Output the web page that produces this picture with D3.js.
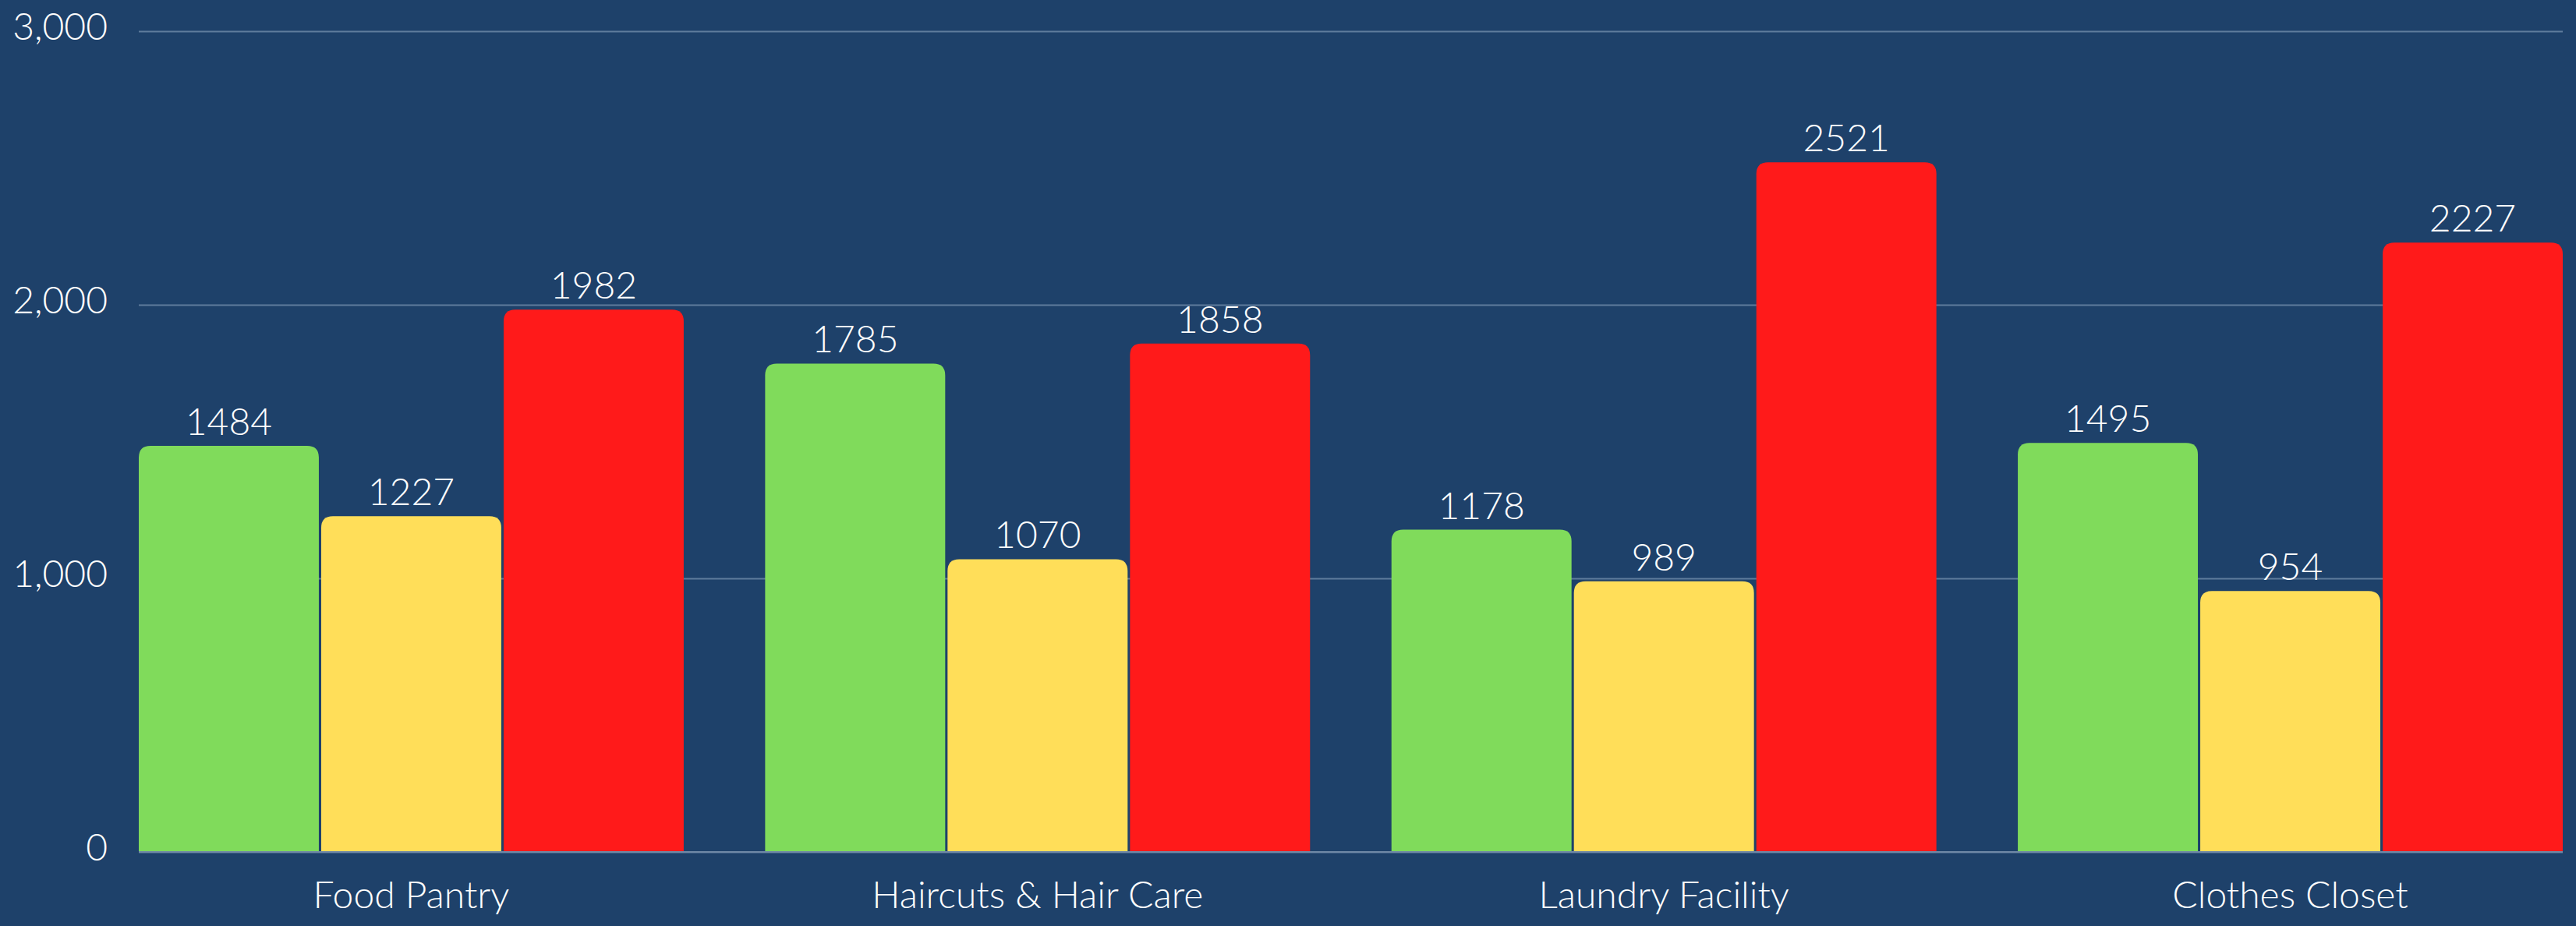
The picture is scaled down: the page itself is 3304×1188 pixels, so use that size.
<!DOCTYPE html>
<html>
<head>
<meta charset="utf-8">
<script src="https://cdn.jsdelivr.net/npm/d3@7"></script>
<style>
    html, body { margin:0; padding:0; background:#1E416A; }
    svg text { font-family: Lato, "Open Sans", sans-serif; font-weight:300; fill:#ffffff; }
</style>
</head>
<body>
<svg id="chart"></svg>
<script>
//DATA
const categories = ["Food Pantry", "Haircuts & Hair Care", "Laundry Facility", "Clothes Closet"];
const seriesKeys = ["green", "yellow", "red"];
const greenValues = [1484, 1785, 1178, 1495];
const yellowValues = [1227, 1070, 989, 954];
const redValues = [1982, 1858, 2521, 2227];
const yTicks = [0, 1000, 2000, 3000];

const seriesValues = { green:greenValues, yellow:yellowValues, red:redValues };
const colours = { green:"#80DB5B", yellow:"#FFDE59", red:"#FF1A1A" };

//dimensions
const WIDTH = 3304;
const HEIGHT = 1188;
const margin = { left:178, right:17, top:40, bottom:95 };
const contentsWidth = WIDTH - margin.left - margin.right;
const contentsHeight = HEIGHT - margin.top - margin.bottom;
const FONT_SIZE = 48;
const CORNER = 15;

const svg = d3.select("#chart")
    .attr("width", WIDTH)
    .attr("height", HEIGHT);

svg.append("rect")
    .attr("width", WIDTH)
    .attr("height", HEIGHT)
    .attr("fill", "#1E416A");

const contentsG = svg.append("g")
    .attr("transform", `translate(${margin.left},${margin.top})`);

//scales
const x0 = d3.scaleBand()
    .domain(categories)
    .range([0, contentsWidth])
    .paddingInner(0.13)
    .paddingOuter(0);

const x1 = d3.scaleBand()
    .domain(seriesKeys)
    .range([0, x0.bandwidth()])
    .paddingInner(0.013);

const y = d3.scaleLinear()
    .domain([0, 3000])
    .range([contentsHeight, 0]);

//gridlines + y labels
const yAxis = d3.axisLeft(y)
    .tickValues(yTicks)
    .tickSize(-contentsWidth)
    .tickPadding(40)
    .tickFormat(d3.format(","));

contentsG.append("g")
    .attr("class", "y-axis")
    .call(yAxis)
    .call(g => g.select(".domain").remove())
    .call(g => g.selectAll(".tick line")
        .attr("stroke", "#5F7C9C")
        .attr("stroke-width", 2))
    .call(g => g.selectAll(".tick text")
        .attr("font-size", FONT_SIZE)
        .attr("font-family", null)
        .attr("fill", "#ffffff")
        .attr("dy", "0.22em"));

//bar path with rounded top corners only
function topRoundedBar(x, yTop, w, h, r){
    const rr = Math.min(r, h, w / 2);
    return `M${x},${yTop + h}`
        + `V${yTop + rr}`
        + `Q${x},${yTop} ${x + rr},${yTop}`
        + `H${x + w - rr}`
        + `Q${x + w},${yTop} ${x + w},${yTop + rr}`
        + `V${yTop + h}Z`;
}

const groupData = categories.map((c, i) => ({
    category:c,
    bars:seriesKeys.map(k => ({ key:k, value:seriesValues[k][i] }))
}));

const groupG = contentsG.selectAll("g.group").data(groupData)
    .join("g")
        .attr("class", "group")
        .attr("transform", d => `translate(${x0(d.category)},0)`);

groupG.selectAll("path.bar").data(d => d.bars)
    .join("path")
        .attr("class", "bar")
        .attr("fill", d => colours[d.key])
        .attr("d", d => topRoundedBar(x1(d.key), y(d.value), x1.bandwidth(), y(0) - y(d.value), CORNER));

//value labels
groupG.selectAll("text.value").data(d => d.bars)
    .join("text")
        .attr("class", "value")
        .attr("text-anchor", "middle")
        .attr("x", d => x1(d.key) + x1.bandwidth() / 2)
        .attr("y", d => y(d.value) - 14)
        .attr("font-size", FONT_SIZE)
        .text(d => d.value);

//baseline
contentsG.append("line")
    .attr("x1", 0)
    .attr("x2", contentsWidth)
    .attr("y1", y(0))
    .attr("y2", y(0))
    .attr("stroke", "#6F88A6")
    .attr("stroke-width", 2);

//category labels
contentsG.selectAll("text.category").data(categories)
    .join("text")
        .attr("class", "category")
        .attr("text-anchor", "middle")
        .attr("x", d => x0(d) + x0.bandwidth() / 2)
        .attr("y", contentsHeight + 72)
        .attr("font-size", FONT_SIZE)
        .text(d => d);
</script>
</body>
</html>
